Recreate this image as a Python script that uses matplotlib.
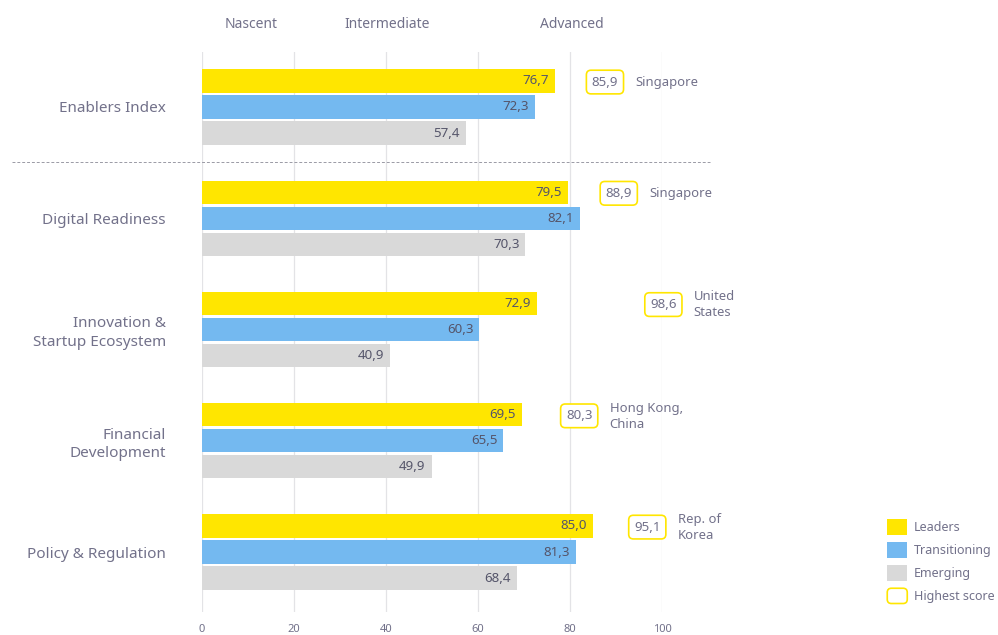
import numpy as np
import matplotlib
matplotlib.use("Agg")
from matplotlib import pyplot as plt
from matplotlib.patches import Patch, FancyBboxPatch
from matplotlib.legend_handler import HandlerPatch

plt.rcParams['font.family'] = ['Noto Sans', 'DejaVu Sans']

# data
categories = ["Enablers Index", "Digital Readiness", "Innovation &\nStartup Ecosystem",
              "Financial\nDevelopment", "Policy & Regulation"]
leaders = [76.7, 79.5, 72.9, 69.5, 85.0]
transitioning = [72.3, 82.1, 60.3, 65.5, 81.3]
emerging = [57.4, 70.3, 40.9, 49.9, 68.4]
highest = [85.9, 88.9, 98.6, 80.3, 95.1]
highest_country = ["Singapore", "Singapore", "United\nStates", "Hong Kong,\nChina", "Rep. of\nKorea"]
stages = ["Nascent", "Intermediate", "Advanced"]
stage_pos = [10.6, 40.2, 80.4]
xticks = [0, 20, 40, 60, 80, 100]

YELLOW = '#FFE600'
BLUE = '#74B9F0'
GREY = '#D9D9D9'
TXT = '#72718A'
DARK = '#55556A'


def fmt(v):
    return f"{v:.1f}".replace('.', ',')


W, H = 998, 635
fig = plt.figure(figsize=(W / 100, H / 100), dpi=100)
ax = fig.add_axes([202 / W, (H - 612) / H, 460 / W, 560 / H])
ax.set_xlim(0, 100)
ax.set_ylim(4.539, -0.494)
for s in ax.spines.values():
    s.set_visible(False)

for x in xticks:
    ax.axvline(x, color='#E3E3E6', lw=0.9, zorder=0)

y = np.arange(len(categories))
off = 0.234
bh = 0.21
series = [(leaders, YELLOW, -off), (transitioning, BLUE, 0), (emerging, GREY, off)]
for vals, col, dy in series:
    ax.barh(y + dy, vals, height=bh, color=col, zorder=2)
    for yi, v in zip(y, vals):
        ax.text(v - 1.3, yi + dy, fmt(v), ha='right', va='center',
                fontsize=9.6, color=DARK, zorder=3)

# highest score boxes
for yi, v, c in zip(y, highest, highest_country):
    ax.text(v + 1.7, yi - off + 0.01, fmt(v), ha='center', va='center', fontsize=9.6,
            color=TXT, zorder=4, clip_on=False,
            bbox=dict(boxstyle='round,pad=0.4,rounding_size=0.35', fc='white',
                      ec=YELLOW, lw=1.2))
    ax.text(v + 1.7 + 6.6, yi - off + 0.012, c, ha='left', va='center', fontsize=9.4,
            color=TXT, linespacing=1.3, clip_on=False)

# separator between index and pillars
ax.plot([-41.3, 110.4], [0.494, 0.494], ls=(0, (3, 2)), color='#9A9AA5', lw=0.7,
        clip_on=False)

# stage headers
for s, xp in zip(stages, stage_pos):
    ax.text(xp, -0.737, s, ha='center', va='center', fontsize=10, color=TXT,
            clip_on=False)

ax.set_yticks(y)
ax.set_yticklabels(categories, fontsize=11, color=TXT, linespacing=1.3)
ax.set_xticks(xticks)
ax.set_xticklabels([str(t) for t in xticks], fontsize=8, color=TXT)
ax.tick_params(axis='y', length=0, pad=26)
ax.tick_params(axis='x', length=0, pad=8.5)


def rounded(legend, orig_handle, xdescent, ydescent, width, height, fontsize):
    return FancyBboxPatch((-xdescent, -ydescent), width, height,
                          boxstyle='round,pad=0,rounding_size=3')


handles = [Patch(fc=YELLOW, ec='none'), Patch(fc=BLUE, ec='none'),
           Patch(fc=GREY, ec='none'), Patch(fc='white', ec=YELLOW, lw=1.2)]
labels = ["Leaders", "Transitioning", "Emerging", "Highest score"]
fig.legend(handles, labels, loc='upper left', bbox_to_anchor=(876 / W, 1 - 508 / H),
           frameon=False, fontsize=9, labelcolor=TXT, handlelength=1.6,
           handleheight=1.5, handletextpad=0.55, labelspacing=0.62,
           handler_map={handles[3]: HandlerPatch(patch_func=rounded)})

fig.savefig("out.png", dpi=100)
